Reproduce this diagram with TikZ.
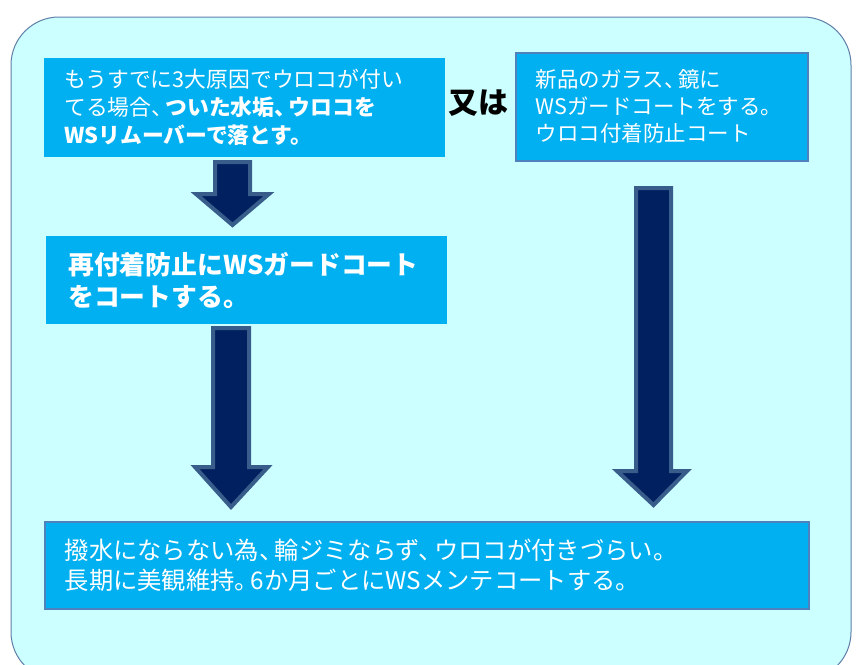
\documentclass[tikz,border=0pt]{standalone}
\usepackage{fontspec}
\newfontfamily\jp{Noto Sans CJK JP}
\newcommand\jpcomma{、\kern-0.35em}
\newcommand\jpstop{。\kern-0.35em}
\definecolor{bgcyan}{HTML}{CCFFFF}
\definecolor{boxblue}{HTML}{00B0F0}
\definecolor{boxedge}{HTML}{4F81BD}
\definecolor{navyfill}{HTML}{002060}
\definecolor{arrowedge}{HTML}{385D8A}
\definecolor{frameedge}{HTML}{5F7FA8}
\begin{document}
\begin{tikzpicture}[x=1pt,y=-1pt,
  box/.style={fill=boxblue, text=white, inner xsep=20pt, inner ysep=0pt, align=left, anchor=north west},
  edged/.style={draw=boxedge, line width=1.5pt},
  barrow/.style={fill=navyfill, draw=arrowedge, line width=4pt}]
\useasboundingbox (0,0) rectangle (859,664);
\clip (0,0) rectangle (859,664);
\fill[white] (0,0) rectangle (859,664);
\draw[frameedge, fill=bgcyan, rounded corners=48pt, line width=1pt] (11,17) rectangle (851,680);

\node[box, text width=361pt, minimum height=99pt, font=\jp\fontsize{21.8pt}{28pt}\selectfont] (b1) at (44,58)
  {もうすでに3大原因でウロコが付い\\てる場合\jpcomma\textbf{ついた水垢\jpcomma ウロコを}\\\textbf{WSリムーバーで落とす。}};
\node[box, edged, text width=252pt, minimum height=108pt, font=\jp\fontsize{21.5pt}{27pt}\selectfont] (b2) at (515,52)
  {新品のガラス\jpcomma 鏡に\\WSガードコートをする。\\ウロコ付着防止コート};
\node[box, inner xsep=22pt, text width=357pt, minimum height=88pt, font=\jp\bfseries\fontsize{25.8pt}{32pt}\selectfont] (b3) at (46,236)
  {再付着防止にWSガードコート\\をコートする。};
\node[box, edged, text width=724pt, minimum height=87pt, font=\jp\fontsize{24.3pt}{30pt}\selectfont] (b4) at (44,521)
  {撥水にならない為\jpcomma 輪ジミならず\jpcomma ウロコが付きづらい。\\長期に美観維持\jpstop 6か月ごとにWSメンテコートする。};

\node[font=\jp\bfseries\fontsize{30pt}{30pt}\selectfont, inner sep=0pt] (or) at (478,103) {又は};

% block arrows
\draw[barrow] (215,162) -- (250,162) -- (250,194) -- (269,194) -- (232.5,225) -- (196,194) -- (215,194) -- cycle;
\draw[barrow] (213,328) -- (249,328) -- (249,467) -- (268,467) -- (231,507) -- (195,467) -- (213,467) -- cycle;
\draw[barrow] (636,188) -- (671,188) -- (671,471) -- (687,471) -- (653.5,505) -- (617,471) -- (636,471) -- cycle;
\end{tikzpicture}
\end{document}
